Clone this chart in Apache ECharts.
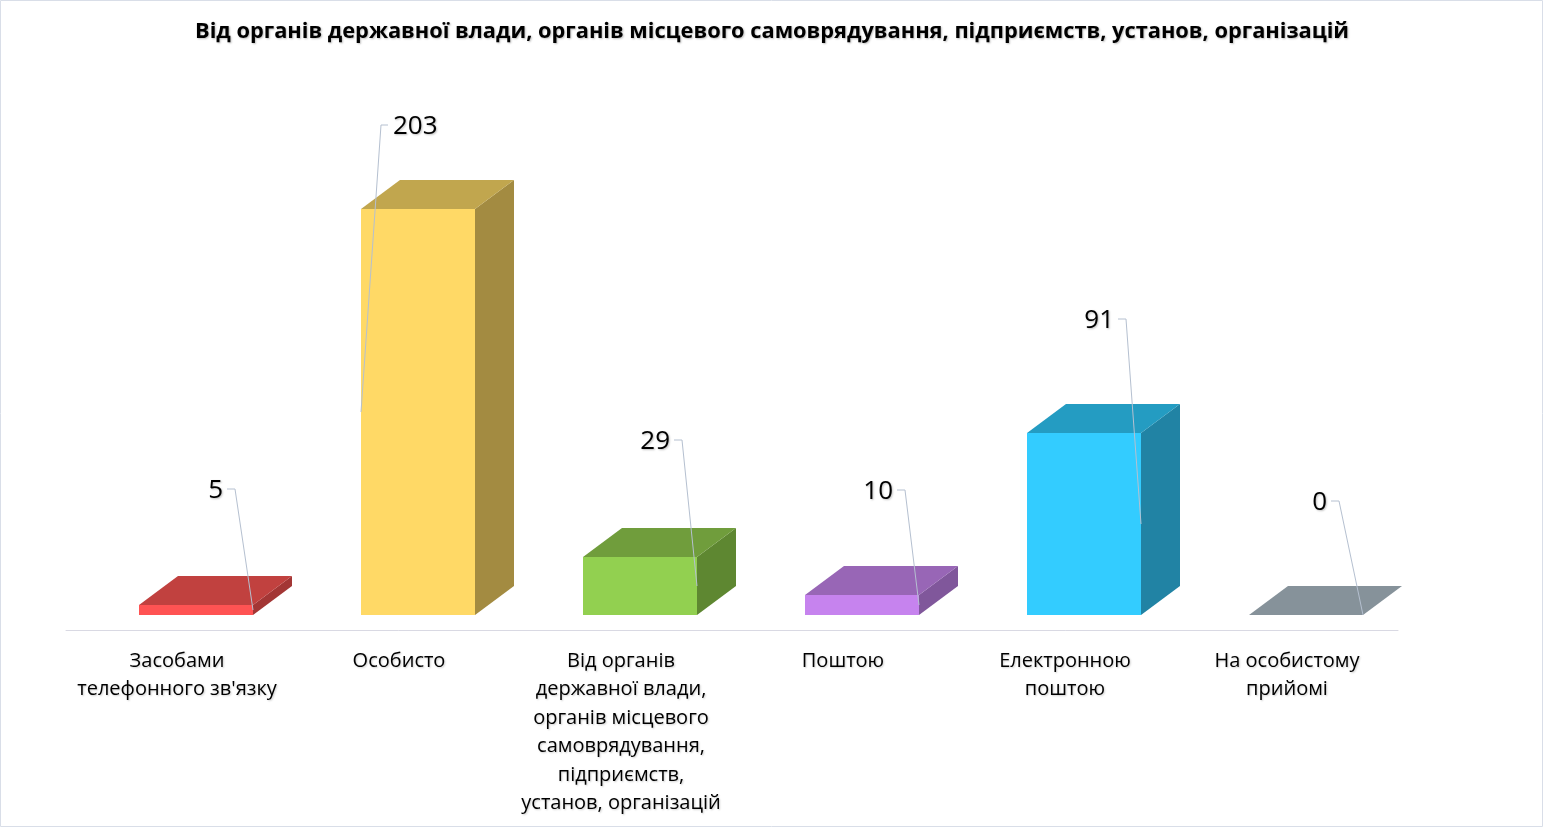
<!DOCTYPE html>
<html><head><meta charset="utf-8">
<script src="https://cdn.jsdelivr.net/npm/echarts@6/dist/echarts.min.js"></script>
<style>html,body{margin:0;padding:0;background:#fff;}#c{width:1544px;height:829px;}</style>
</head><body><div id="c"></div>
<script>
const categories = [
  'Засобами\nтелефонного зв\'язку',
  'Особисто',
  'Від органів\nдержавної влади,\nорганів місцевого\nсамоврядування,\nпідприємств,\nустанов, організацій',
  'Поштою',
  'Електронною\nпоштою',
  'На особистому\nприйомі'
];
const values = [5, 203, 29, 10, 91, 0];
const titleText = 'Від органів державної влади, органів місцевого самоврядування, підприємств, установ, організацій';

// styles
const frontColors = ['#FF5353','#FFD966','#92D050','#C683EE','#33CCFF','#86929A'];
const topColors   = ['#C1413F','#C1A64E','#709D3C','#9866B6','#249CC2','#86929A'];
const sideColors  = ['#A33635','#A38B41','#5E8731','#80579B','#2183A4','#6F7A82'];
const anchorSide  = ['right','left','right','right','right','right'];
const elbowDx = [-18, 20, -15, -14, -15, -24];
const elbowDy = [-121, -287, -146, -115, -205, -114];

const FONT = '"Open Sans", "Noto Sans", sans-serif';
const chart = echarts.init(document.getElementById('c'));
chart.setOption({
  backgroundColor: '#fff',
  animation: false,
  title: {
    text: titleText, left: 'center', top: 16,
    textStyle: { fontFamily: FONT, fontSize: 21.8, fontWeight: 'bold', color: '#000',
      textShadowColor: 'rgba(0,0,0,0.25)', textShadowBlur: 2, textShadowOffsetX: 1, textShadowOffsetY: 1 }
  },
  graphic: [{ type: 'rect', shape: { x: 0.5, y: 0.5, width: 1542, height: 826 },
    style: { fill: 'none', stroke: '#D9DEE8', lineWidth: 1 }, silent: true }],
  grid: { left: 66, right: 146, top: 100, bottom: 199 },
  xAxis: {
    type: 'category', data: categories,
    axisLine: { lineStyle: { color: '#D9D9E3', width: 1 } },
    axisTick: { show: false },
    axisLabel: { interval: 0, fontFamily: FONT, fontSize: 20, lineHeight: 28.4, margin: 17, color: '#000',
      textShadowColor: 'rgba(0,0,0,0.2)', textShadowBlur: 2, textShadowOffsetX: 1, textShadowOffsetY: 1 }
  },
  yAxis: { type: 'value', min: 0, max: 265, show: false, splitLine: { show: false } },
  series: [{
    type: 'custom',
    data: values.map((v, i) => [i, v]),
    renderItem: function (params, api) {
      const i = api.value(0), v = api.value(1);
      const base = api.coord([i, 0]), top = api.coord([i, v]);
      const cx = base[0];
      const fb = base[1] - 15;
      const h = base[1] - top[1];
      const ft = fb - h;
      const fl = cx - 38, fr = cx + 76;
      const dx = 39, dy = -29;
      const children = [];
      if (h > 0.5) {
        children.push({ type: 'polygon', shape: { points: [[fr, ft], [fr + dx, ft + dy], [fr + dx, fb + dy], [fr, fb]] },
          style: { fill: sideColors[i] } });
        children.push({ type: 'rect', shape: { x: fl, y: ft, width: fr - fl, height: h }, style: { fill: frontColors[i] } });
      }
      children.push({ type: 'polygon', shape: { points: [[fl, ft], [fr, ft], [fr + dx, ft + dy], [fl + dx, ft + dy]] },
        style: { fill: topColors[i] } });
      const ax = anchorSide[i] === 'right' ? fr : fl;
      const ay = (ft + fb) / 2;
      const ex = ax + elbowDx[i], ey = ay + elbowDy[i];
      const leftLabel = anchorSide[i] === 'left';
      const sx = leftLabel ? ex + 7 : ex - 8;
      children.push({ type: 'polyline', shape: { points: [[ax, ay], [ex, ey], [sx, ey]] },
        style: { stroke: '#B5C0D0', lineWidth: 1, fill: 'none' } });
      children.push({ type: 'text', style: {
        text: String(values[i]), x: leftLabel ? sx + 5 : sx - 4, y: ey + 2,
        align: leftLabel ? 'left' : 'right', verticalAlign: 'middle',
        font: '26px ' + FONT, fill: '#000',
        textShadowColor: 'rgba(0,0,0,0.25)', textShadowBlur: 2, textShadowOffsetX: 1, textShadowOffsetY: 1 } });
      return { type: 'group', children: children };
    }
  }]
});
</script></body></html>
